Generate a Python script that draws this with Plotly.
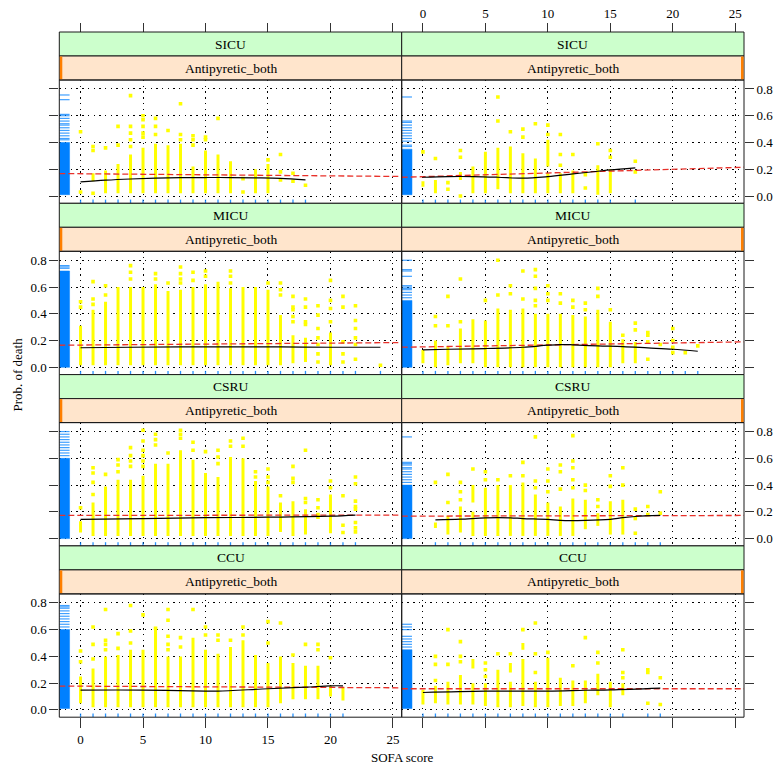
import plotly.graph_objects as go

# ---------------- data ----------------
X_TICKS = [0, 5, 10, 15, 20, 25]
Y_TICKS = [0.0, 0.2, 0.4, 0.6, 0.8]
Y_TICK_TEXT = ["0.0", "0.2", "0.4", "0.6", "0.8"]
X_TITLE = "SOFA score"
Y_TITLE = "Prob. of death"
STRIP_LABEL = "Antipyretic_both"
UNITS = ["SICU", "MICU", "CSRU", "CCU"]

# dense columns of points: (SOFA, low prob, high prob)
SICU_L_SEG = [(1, 0.11, 0.17), (2, 0.02, 0.19), (3, 0.02, 0.24), (4, 0.02, 0.31), (5, 0.02, 0.36),
              (6, 0.02, 0.39), (7, 0.02, 0.38), (8, 0.02, 0.39), (9, 0.02, 0.22), (10, 0.02, 0.34),
              (11, 0.02, 0.31), (12, 0.02, 0.26), (14, 0.02, 0.20), (15, 0.02, 0.24)]
SICU_L_PTS = [(0, 0.48), (0, 0.03), (1, 0.37), (1, 0.34), (1, 0.02), (2, 0.36), (3, 0.52), (3, 0.38),
              (4, 0.75), (4, 0.52), (4, 0.47), (4, 0.42), (4, 0.37), (5, 0.60), (5, 0.57), (5, 0.52),
              (5, 0.47), (5, 0.44), (6, 0.58), (6, 0.52), (6, 0.46), (7, 0.49), (8, 0.69), (8, 0.46),
              (8, 0.42), (9, 0.45), (9, 0.42), (9, 0.38), (10, 0.44), (10, 0.42), (11, 0.58),
              (13, 0.13), (13, 0.03), (15, 0.27), (16, 0.31), (16, 0.18), (16, 0.12), (17, 0.17),
              (17, 0.11), (18, 0.08)]
SICU_L_SMOOTH_X = [0, 2, 4, 6, 8, 10, 12, 14, 16, 18]
SICU_L_SMOOTH_Y = [0.105, 0.118, 0.127, 0.133, 0.137, 0.138, 0.138, 0.136, 0.132, 0.12]
SICU_L_FIT = (0.1664, -0.0008)
SICU_L_RUG_BLOCK = (0.01, 0.40)
SICU_L_RUG = [0.755, 0.72, 0.61, 0.60, 0.58, 0.56, 0.54, 0.53, 0.51, 0.49, 0.47, 0.45, 0.43, 0.42]

SICU_R_SEG = [(0, 0.07, 0.11), (1, 0.02, 0.12), (3, 0.12, 0.18), (4, 0.02, 0.22), (5, 0.02, 0.33),
              (6, 0.05, 0.36), (7, 0.02, 0.37), (8, 0.02, 0.32), (9, 0.02, 0.28), (10, 0.22, 0.42),
              (10, 0.02, 0.17), (11, 0.02, 0.17), (12, 0.02, 0.19), (14, 0.01, 0.23), (15, 0.02, 0.20)]
SICU_R_PTS = [(0, 0.33), (1, 0.28), (2, 0.10), (2, 0.05), (3, 0.34), (3, 0.29), (3, 0.0), (6, 0.74),
              (6, 0.56), (7, 0.48), (8, 0.50), (8, 0.44), (9, 0.54), (10, 0.53), (10, 0.46), (11, 0.46),
              (11, 0.31), (11, 0.23), (12, 0.31), (13, 0.16), (13, 0.06), (14, 0.39), (15, 0.34),
              (15, 0.29), (17, 0.26), (17, 0.18)]
SICU_R_SMOOTH_X = [0, 2, 4, 6, 8, 10, 12, 14, 15, 17]
SICU_R_SMOOTH_Y = [0.14, 0.145, 0.145, 0.14, 0.133, 0.145, 0.165, 0.185, 0.195, 0.21]
SICU_R_FIT = (0.1447, 0.00274)
SICU_R_RUG_BLOCK = (0.01, 0.35)
SICU_R_RUG = [0.74, 0.56, 0.55, 0.53, 0.51, 0.49, 0.47, 0.45, 0.43, 0.41, 0.38, 0.37]

MICU_L_SEG = [(0, 0.015, 0.31), (1, 0.015, 0.43), (2, 0.015, 0.49), (3, 0.015, 0.60), (4, 0.015, 0.60),
              (5, 0.015, 0.60), (6, 0.015, 0.62), (7, 0.015, 0.57), (8, 0.015, 0.58), (9, 0.015, 0.60),
              (10, 0.015, 0.62), (11, 0.015, 0.64), (12, 0.015, 0.59), (13, 0.015, 0.60),
              (14, 0.015, 0.60), (15, 0.015, 0.58), (16, 0.015, 0.39), (17, 0.03, 0.24),
              (18, 0.04, 0.22), (20, 0.015, 0.26)]
MICU_L_PTS = [(0, 0.49), (0, 0.45), (1, 0.64), (1, 0.51), (1, 0.47), (2, 0.61), (2, 0.54), (4, 0.76),
              (4, 0.71), (4, 0.66), (6, 0.70), (6, 0.66), (7, 0.63), (8, 0.75), (8, 0.70), (8, 0.66),
              (8, 0.63), (9, 0.71), (9, 0.65), (10, 0.72), (10, 0.68), (12, 0.72), (12, 0.68),
              (12, 0.63), (15, 0.63), (16, 0.63), (16, 0.58), (16, 0.54), (17, 0.53), (17, 0.45),
              (17, 0.43), (17, 0.38), (17, 0.34), (18, 0.51), (18, 0.45), (18, 0.34), (18, 0.32),
              (19, 0.46), (19, 0.39), (19, 0.29), (19, 0.22), (19, 0.17), (19, 0.10), (19, 0.04),
              (20, 0.65), (20, 0.50), (20, 0.44), (20, 0.34), (21, 0.53), (21, 0.45), (21, 0.19),
              (21, 0.10), (21, 0.04), (22, 0.46), (22, 0.35), (22, 0.29), (22, 0.22), (22, 0.17),
              (22, 0.06), (24, 0.015)]
MICU_L_SMOOTH_X = [0, 4, 8, 12, 16, 20, 24]
MICU_L_SMOOTH_Y = [0.146, 0.15, 0.152, 0.153, 0.152, 0.15, 0.15]
MICU_L_FIT = (0.1662, 0.00073)
MICU_L_RUG_BLOCK = (0.0, 0.72)
MICU_L_RUG = [0.76, 0.75, 0.74]

MICU_R_SEG = [(0, 0.03, 0.13), (1, 0.0, 0.20), (2, 0.015, 0.16), (3, 0.03, 0.29), (4, 0.03, 0.36),
              (5, 0.0, 0.35), (6, 0.0, 0.44), (7, 0.0, 0.43), (8, 0.0, 0.44), (9, 0.0, 0.40),
              (10, 0.0, 0.40), (11, 0.0, 0.40), (12, 0.0, 0.39), (13, 0.0, 0.38), (14, 0.0, 0.43),
              (15, 0.0, 0.34), (16, 0.03, 0.21), (17, 0.03, 0.19)]
MICU_R_PTS = [(1, 0.38), (1, 0.31), (2, 0.53), (2, 0.31), (3, 0.66), (3, 0.34), (5, 0.50), (6, 0.80),
              (6, 0.54), (7, 0.61), (7, 0.55), (8, 0.72), (8, 0.51), (9, 0.73), (9, 0.68), (9, 0.59),
              (9, 0.50), (9, 0.46), (10, 0.61), (10, 0.55), (10, 0.50), (11, 0.55), (11, 0.48),
              (12, 0.50), (12, 0.45), (13, 0.48), (13, 0.43), (14, 0.59), (14, 0.53), (15, 0.43),
              (16, 0.24), (17, 0.33), (17, 0.28), (18, 0.26), (18, 0.24), (18, 0.19), (18, 0.06),
              (19, 0.17), (20, 0.29), (20, 0.20), (20, 0.15), (20, 0.11), (21, 0.11), (22, 0.16)]
MICU_R_SMOOTH_X = [0, 2, 5, 8, 10, 11, 12, 14, 16, 18, 20, 22]
MICU_R_SMOOTH_Y = [0.13, 0.135, 0.14, 0.15, 0.165, 0.17, 0.168, 0.16, 0.155, 0.145, 0.135, 0.12]
MICU_R_FIT = (0.1525, 0.00146)
MICU_R_RUG_BLOCK = (0.0, 0.50)
MICU_R_RUG = [0.80, 0.73, 0.72, 0.68, 0.61, 0.60, 0.59, 0.58, 0.56, 0.54, 0.52]

CSRU_L_SEG = [(0, 0.045, 0.13), (1, 0.02, 0.27), (2, 0.02, 0.39), (3, 0.02, 0.44), (4, 0.02, 0.44),
              (5, 0.02, 0.47), (6, 0.02, 0.56), (7, 0.02, 0.56), (8, 0.02, 0.66), (9, 0.02, 0.59),
              (10, 0.02, 0.49), (11, 0.02, 0.46), (12, 0.02, 0.61), (13, 0.02, 0.60), (14, 0.02, 0.43),
              (15, 0.02, 0.39), (16, 0.05, 0.27), (17, 0.02, 0.28), (18, 0.03, 0.22), (20, 0.04, 0.33)]
CSRU_L_PTS = [(0, 0.23), (1, 0.53), (1, 0.49), (1, 0.42), (1, 0.33), (2, 0.48), (3, 0.59), (3, 0.55),
              (3, 0.50), (4, 0.68), (4, 0.62), (4, 0.58), (4, 0.54), (5, 0.81), (5, 0.73), (5, 0.66),
              (5, 0.62), (5, 0.58), (5, 0.54), (6, 0.78), (6, 0.74), (6, 0.70), (7, 0.64), (8, 0.81),
              (8, 0.78), (8, 0.75), (9, 0.72), (9, 0.66), (10, 0.65), (11, 0.66), (11, 0.61),
              (11, 0.56), (12, 0.73), (12, 0.69), (13, 0.75), (13, 0.69), (14, 0.50), (14, 0.46),
              (15, 0.52), (15, 0.46), (15, 0.42), (16, 0.32), (17, 0.54), (17, 0.45), (17, 0.42),
              (18, 0.66), (18, 0.30), (18, 0.27), (19, 0.29), (19, 0.23), (19, 0.18), (19, 0.16),
              (20, 0.43), (20, 0.38), (21, 0.32), (21, 0.10), (21, 0.045), (22, 0.46), (22, 0.41),
              (22, 0.28), (22, 0.24), (22, 0.22), (22, 0.12), (22, 0.08), (22, 0.05)]
CSRU_L_SMOOTH_X = [0, 5, 10, 15, 20, 22]
CSRU_L_SMOOTH_Y = [0.144, 0.15, 0.156, 0.16, 0.168, 0.176]
CSRU_L_FIT = (0.1732, 0.00011)
CSRU_L_RUG_BLOCK = (0.0, 0.60)
CSRU_L_RUG = [0.80, 0.78, 0.76, 0.74, 0.72, 0.70, 0.68, 0.66, 0.64, 0.62]

CSRU_R_SEG = [(1, 0.08, 0.12), (2, 0.03, 0.17), (3, 0.045, 0.24), (4, 0.02, 0.20), (4, 0.27, 0.40),
              (5, 0.02, 0.38), (6, 0.02, 0.40), (7, 0.02, 0.40), (8, 0.02, 0.42), (9, 0.02, 0.33),
              (10, 0.02, 0.27), (11, 0.02, 0.24), (12, 0.02, 0.30), (13, 0.07, 0.29), (14, 0.095, 0.19),
              (15, 0.03, 0.28), (16, 0.03, 0.29)]
CSRU_R_PTS = [(1, 0.42), (2, 0.48), (2, 0.27), (3, 0.42), (3, 0.35), (3, 0.29), (4, 0.52), (5, 0.50),
              (5, 0.44), (6, 0.44), (7, 0.47), (8, 0.57), (8, 0.47), (9, 0.76), (9, 0.43), (9, 0.38),
              (10, 0.52), (10, 0.43), (10, 0.35), (11, 0.55), (11, 0.50), (11, 0.37), (12, 0.77),
              (12, 0.58), (12, 0.53), (12, 0.44), (12, 0.38), (13, 0.40), (13, 0.36), (14, 0.29),
              (14, 0.24), (15, 0.47), (15, 0.39), (16, 0.53), (16, 0.40), (17, 0.22), (17, 0.15),
              (17, 0.04), (18, 0.24), (18, 0.18), (19, 0.35), (19, 0.19)]
CSRU_R_SMOOTH_X = [1, 3, 5, 7, 8, 10, 11, 13, 15, 16, 17, 19]
CSRU_R_SMOOTH_Y = [0.14, 0.145, 0.155, 0.155, 0.15, 0.144, 0.136, 0.136, 0.144, 0.156, 0.165, 0.173]
CSRU_R_FIT = (0.1683, 0.00018)
CSRU_R_RUG_BLOCK = (0.0, 0.40)
CSRU_R_RUG = [0.76, 0.57, 0.56, 0.55, 0.53, 0.52, 0.50, 0.48, 0.46, 0.44, 0.42]

CCU_L_SEG = [(0, 0.05, 0.25), (1, 0.02, 0.31), (2, 0.02, 0.40), (3, 0.02, 0.41), (4, 0.02, 0.45),
             (5, 0.02, 0.45), (6, 0.02, 0.60), (7, 0.02, 0.40), (8, 0.02, 0.40), (9, 0.02, 0.54),
             (10, 0.02, 0.45), (11, 0.02, 0.42), (12, 0.02, 0.47), (13, 0.02, 0.52), (14, 0.02, 0.41),
             (15, 0.02, 0.35), (16, 0.05, 0.40), (17, 0.08, 0.35), (18, 0.08, 0.33), (19, 0.08, 0.33),
             (20, 0.10, 0.18), (21, 0.07, 0.17)]
CCU_L_PTS = [(0, 0.44), (0, 0.36), (1, 0.62), (1, 0.49), (1, 0.38), (2, 0.75), (2, 0.52), (2, 0.49),
             (2, 0.45), (3, 0.57), (3, 0.46), (4, 0.78), (4, 0.59), (4, 0.50), (5, 0.71), (6, 0.61),
             (7, 0.75), (7, 0.67), (7, 0.55), (7, 0.49), (7, 0.45), (8, 0.54), (8, 0.47), (9, 0.75),
             (10, 0.62), (10, 0.56), (11, 0.56), (11, 0.52), (12, 0.52), (13, 0.62), (13, 0.56),
             (15, 0.66), (15, 0.50), (16, 0.65), (17, 0.41), (18, 0.49), (19, 0.49), (19, 0.45),
             (20, 0.39)]
CCU_L_SMOOTH_X = [0, 5, 10, 11, 15, 18, 20, 21]
CCU_L_SMOOTH_Y = [0.148, 0.148, 0.14, 0.14, 0.158, 0.17, 0.18, 0.18]
CCU_L_FIT = (0.1772, -0.00047)
CCU_L_RUG_BLOCK = (0.01, 0.60)
CCU_L_RUG = [0.78, 0.77, 0.76, 0.74, 0.72, 0.70, 0.68, 0.66, 0.64, 0.62]

CCU_R_SEG = [(0, 0.04, 0.15), (1, 0.05, 0.18), (2, 0.04, 0.21), (3, 0.04, 0.26), (4, 0.31, 0.38),
             (4, 0.04, 0.20), (5, 0.03, 0.20), (6, 0.02, 0.30), (7, 0.02, 0.21), (7, 0.28, 0.35),
             (8, 0.03, 0.38), (8, 0.45, 0.50), (9, 0.02, 0.21), (10, 0.02, 0.39), (11, 0.03, 0.24),
             (12, 0.03, 0.22), (13, 0.05, 0.22), (14, 0.11, 0.27), (15, 0.02, 0.21), (16, 0.11, 0.20)]
CCU_R_PTS = [(1, 0.40), (1, 0.34), (1, 0.22), (2, 0.60), (2, 0.34), (3, 0.51), (3, 0.40), (3, 0.36),
             (5, 0.35), (5, 0.30), (5, 0.25), (6, 0.42), (7, 0.42), (8, 0.60), (9, 0.65), (9, 0.42),
             (9, 0.28), (10, 0.43), (12, 0.33), (13, 0.54), (14, 0.43), (14, 0.35), (16, 0.45),
             (16, 0.28), (16, 0.24), (18, 0.30), (18, 0.28), (18, 0.05), (19, 0.24), (19, 0.04)]
CCU_R_SMOOTH_X = [0, 5, 10, 13, 15, 19]
CCU_R_SMOOTH_Y = [0.13, 0.14, 0.14, 0.147, 0.15, 0.163]
CCU_R_FIT = (0.158, 0.0)
CCU_R_RUG_BLOCK = (0.01, 0.45)
CCU_R_RUG = [0.64, 0.62, 0.60, 0.55, 0.53, 0.51, 0.49, 0.47]

PANELS = [
    (SICU_L_SEG, SICU_L_PTS, SICU_L_SMOOTH_X, SICU_L_SMOOTH_Y, SICU_L_FIT, SICU_L_RUG_BLOCK, SICU_L_RUG),
    (SICU_R_SEG, SICU_R_PTS, SICU_R_SMOOTH_X, SICU_R_SMOOTH_Y, SICU_R_FIT, SICU_R_RUG_BLOCK, SICU_R_RUG),
    (MICU_L_SEG, MICU_L_PTS, MICU_L_SMOOTH_X, MICU_L_SMOOTH_Y, MICU_L_FIT, MICU_L_RUG_BLOCK, MICU_L_RUG),
    (MICU_R_SEG, MICU_R_PTS, MICU_R_SMOOTH_X, MICU_R_SMOOTH_Y, MICU_R_FIT, MICU_R_RUG_BLOCK, MICU_R_RUG),
    (CSRU_L_SEG, CSRU_L_PTS, CSRU_L_SMOOTH_X, CSRU_L_SMOOTH_Y, CSRU_L_FIT, CSRU_L_RUG_BLOCK, CSRU_L_RUG),
    (CSRU_R_SEG, CSRU_R_PTS, CSRU_R_SMOOTH_X, CSRU_R_SMOOTH_Y, CSRU_R_FIT, CSRU_R_RUG_BLOCK, CSRU_R_RUG),
    (CCU_L_SEG, CCU_L_PTS, CCU_L_SMOOTH_X, CCU_L_SMOOTH_Y, CCU_L_FIT, CCU_L_RUG_BLOCK, CCU_L_RUG),
    (CCU_R_SEG, CCU_R_PTS, CCU_R_SMOOTH_X, CCU_R_SMOOTH_Y, CCU_R_FIT, CCU_R_RUG_BLOCK, CCU_R_RUG),
]

# ---------------- layout / style ----------------
W, H = 783, 770
FONT = "Liberation Serif"
X_RANGE = [-1.7, 25.7]
Y_RANGE = [-0.0546, 0.867]
RUG_FRAC = 0.03
COL_X = [(59.3, 401.7), (401.7, 744.0)]
ROW_TOP = [32.0, 203.3, 374.6, 545.9]
STRIP_H = 24.0
PLOT_H = 123.3
YELLOW = "#FFFF00"
BLUE = "#0080FF"
GREEN_STRIP = "#CCFFCC"
ORANGE_STRIP = "#FFE5CC"
ORANGE_MARK = "#FF7F00"
BORDER = "#1a1a1a"
GRID_DASH = "1.4px,4.3px"


def px(v):
    return v / W


def py(v):
    return 1 - v / H


fig = go.Figure()
shapes = []
annotations = []

xr0, xr1 = X_RANGE
yr0, yr1 = Y_RANGE
rug_x1 = xr0 + RUG_FRAC * (xr1 - xr0)
rug_y1 = yr0 + RUG_FRAC * (yr1 - yr0)

for i, (seg, pts, sx, sy, fit, rblock, rlines) in enumerate(PANELS):
    r, c = divmod(i, 2)
    k = i + 1
    xref = "x" if k == 1 else f"x{k}"
    yref = "y" if k == 1 else f"y{k}"
    common = dict(xaxis=xref, yaxis=yref, showlegend=False, hoverinfo="skip")

    # y rug: dense block + individual rug lines
    fig.add_trace(go.Scatter(x=[xr0, rug_x1, rug_x1, xr0, xr0],
                             y=[rblock[0], rblock[0], rblock[1], rblock[1], rblock[0]],
                             fill="toself", fillcolor=BLUE, mode="lines",
                             line=dict(color=BLUE, width=0.5), **common))
    rx, ry = [], []
    for v in rlines:
        rx += [xr0, rug_x1, None]
        ry += [v, v, None]
    fig.add_trace(go.Scatter(x=rx, y=ry, mode="lines", opacity=0.75,
                             line=dict(color=BLUE, width=1.2), **common))

    # x rug at each SOFA value present
    xs_present = sorted(set([s[0] for s in seg] + [p[0] for p in pts]))
    bx, by = [], []
    for v in xs_present:
        bx += [v, v, None]
        by += [yr0, rug_y1, None]
    fig.add_trace(go.Scatter(x=bx, y=by, mode="lines", opacity=0.85,
                             line=dict(color=BLUE, width=1.3), **common))

    # yellow dense columns
    gx, gy = [], []
    for xv, lo, hi in seg:
        gx += [xv, xv, None]
        gy += [lo, hi, None]
    fig.add_trace(go.Scatter(x=gx, y=gy, mode="lines",
                             line=dict(color=YELLOW, width=3.0), **common))
    # yellow individual points
    fig.add_trace(go.Scatter(x=[p[0] for p in pts], y=[p[1] for p in pts], mode="markers",
                             marker=dict(color=YELLOW, size=3.6, symbol="square",
                                         line=dict(width=0)), **common))

    # linear fit (red dashed), across the whole panel
    a, b = fit
    fig.add_trace(go.Scatter(x=[xr0, xr1], y=[a + b * xr0, a + b * xr1], mode="lines",
                             line=dict(color="#E8312A", width=1.3, dash="6px,3px"), **common))
    # loess smooth (black)
    fig.add_trace(go.Scatter(x=sx, y=sy, mode="lines", line=dict(color="black", width=1.2,
                                                                  shape="spline"), **common))

    # geometry
    x0, x1 = COL_X[c]
    top = ROW_TOP[r]
    ptop = top + 2 * STRIP_H
    pbot = ptop + PLOT_H

    xaxis = dict(domain=[px(x0), px(x1)], range=X_RANGE, tickvals=X_TICKS,
                 showgrid=True, gridcolor="black", gridwidth=1, griddash=GRID_DASH,
                 zeroline=False, showline=False, ticks="", showticklabels=False,
                 tickfont=dict(family=FONT, size=13, color="black"),
                 tickcolor="#333", tickwidth=1, anchor=yref)
    if r == 0:
        xaxis.update(anchor="free", position=py(top), side="top", ticks="outside",
                     ticklen=9, showticklabels=(c == 1))
    elif r == 3:
        xaxis.update(ticks="outside", ticklen=10, showticklabels=(c == 0))
    yaxis = dict(domain=[py(pbot), py(ptop)], range=Y_RANGE, tickvals=Y_TICKS,
                 ticktext=Y_TICK_TEXT, showgrid=True, gridcolor="black", gridwidth=1,
                 griddash=GRID_DASH, zeroline=False, showline=False, ticks="outside",
                 ticklen=9, tickcolor="#333", tickwidth=1, anchor=xref,
                 tickfont=dict(family=FONT, size=13, color="black"))
    if c == 0:
        yaxis.update(side="left", showticklabels=(r % 2 == 1))
    else:
        yaxis.update(side="right", showticklabels=(r % 2 == 0))
    fig.layout["xaxis" if k == 1 else f"xaxis{k}"] = xaxis
    fig.layout["yaxis" if k == 1 else f"yaxis{k}"] = yaxis

    # strips
    shapes.append(dict(type="rect", xref="paper", yref="paper", x0=px(x0), x1=px(x1),
                       y0=py(top + STRIP_H), y1=py(top), fillcolor=GREEN_STRIP,
                       line=dict(color=BORDER, width=1), layer="above"))
    shapes.append(dict(type="rect", xref="paper", yref="paper", x0=px(x0), x1=px(x1),
                       y0=py(ptop), y1=py(top + STRIP_H), fillcolor=ORANGE_STRIP,
                       line=dict(color=BORDER, width=1), layer="above"))
    if c == 0:
        mx0, mx1 = x0 + 0.5, x0 + 3.0
    else:
        mx0, mx1 = x1 - 3.0, x1 - 0.5
    shapes.append(dict(type="rect", xref="paper", yref="paper", x0=px(mx0), x1=px(mx1),
                       y0=py(ptop - 0.5), y1=py(top + STRIP_H + 0.5), fillcolor=ORANGE_MARK,
                       line=dict(width=0), layer="above"))
    # panel border
    shapes.append(dict(type="rect", xref="paper", yref="paper", x0=px(x0), x1=px(x1),
                       y0=py(pbot), y1=py(ptop), line=dict(color=BORDER, width=1),
                       fillcolor="rgba(0,0,0,0)", layer="above"))

    annotations.append(dict(x=px((x0 + x1) / 2), y=py(top + STRIP_H / 2), xref="paper",
                            yref="paper", text=UNITS[r], showarrow=False,
                            font=dict(family=FONT, size=13.5, color="black"),
                            xanchor="center", yanchor="middle"))
    annotations.append(dict(x=px((x0 + x1) / 2), y=py(top + 1.5 * STRIP_H), xref="paper",
                            yref="paper", text=STRIP_LABEL, showarrow=False,
                            font=dict(family=FONT, size=13.5, color="black"),
                            xanchor="center", yanchor="middle"))

annotations.append(dict(x=px((COL_X[0][0] + COL_X[1][1]) / 2), y=py(757), xref="paper", yref="paper",
                        text=X_TITLE, showarrow=False, xanchor="center", yanchor="middle",
                        font=dict(family=FONT, size=13, color="black")))
annotations.append(dict(x=px(18), y=py((ROW_TOP[0] + ROW_TOP[3] + 2 * STRIP_H + PLOT_H) / 2),
                        xref="paper", yref="paper", text=Y_TITLE, showarrow=False,
                        textangle=-90, xanchor="center", yanchor="middle",
                        font=dict(family=FONT, size=13, color="black")))

fig.update_layout(width=W, height=H, margin=dict(l=0, r=0, t=0, b=0),
                  paper_bgcolor="white", plot_bgcolor="white", showlegend=False,
                  hovermode=False, shapes=shapes, annotations=annotations,
                  font=dict(family=FONT, size=13, color="black"))

fig.write_html("out.html", config={"displayModeBar": False})

# remove the default page margin so the figure starts at the window's corner
with open("out.html", "r", encoding="utf-8") as f:
    html = f.read()
html = html.replace("<head>", "<head><style>html,body{margin:0;padding:0;overflow:hidden;}</style>", 1)
with open("out.html", "w", encoding="utf-8") as f:
    f.write(html)
